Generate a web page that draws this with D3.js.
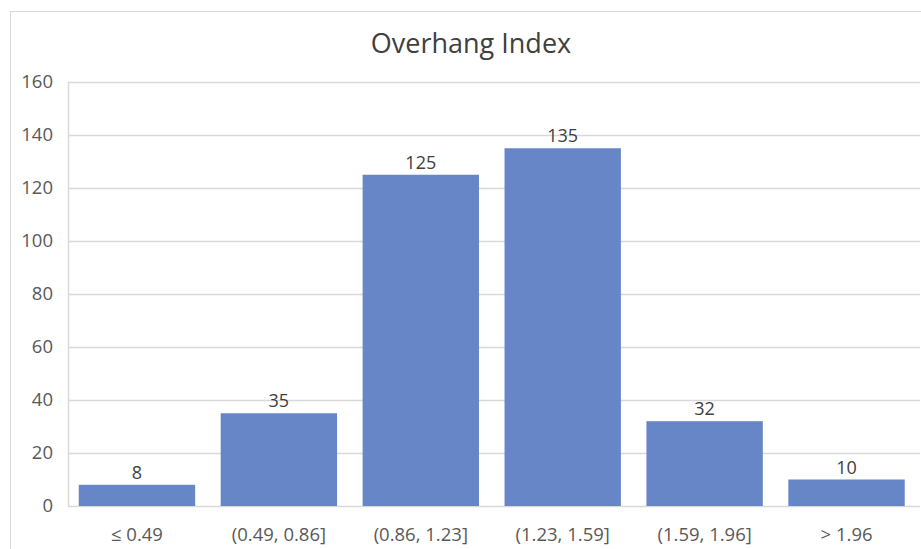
<!DOCTYPE html>
<html>
<head>
<meta charset="utf-8">
<script src="https://cdn.jsdelivr.net/npm/d3@7"></script>
<style>
  html, body { margin: 0; padding: 0; background: #fff; }
  svg { display: block; }
  text { font-family: "Open Sans", "Noto Sans", sans-serif; }
</style>
</head>
<body>
<svg id="chart" width="921" height="549"></svg>
<script>
// Overhang index histogram
const categories = ["≤ 0.49", "(0.49, 0.86]", "(0.86, 1.23]", "(1.23, 1.59]", "(1.59, 1.96]", "> 1.96"];
const counts = [8, 35, 125, 135, 32, 10];
const yTicks = [0, 20, 40, 60, 80, 100, 120, 140, 160];
const title = "Overhang Index";

const svg = d3.select("#chart");
const W = 921, H = 549;
const plot = { left: 68, right: 920, top: 82, bottom: 506 };

// chart frame
svg.append("rect")
  .attr("x", 10.5).attr("y", 11.5)
  .attr("width", W + 20).attr("height", H + 20)
  .attr("fill", "#fff").attr("stroke", "#d9d9d9").attr("stroke-width", 1);

const x = d3.scaleBand()
  .domain(categories)
  .range([66, 917.5])
  .paddingInner(0.18)
  .paddingOuter(0.09);

const y = d3.scaleLinear()
  .domain([0, 160])
  .range([plot.bottom, plot.top]);

// horizontal gridlines
svg.append("g")
  .selectAll("line")
  .data(yTicks)
  .join("line")
  .attr("x1", plot.left).attr("x2", plot.right)
  .attr("y1", d => Math.round(y(d)) + 0.5)
  .attr("y2", d => Math.round(y(d)) + 0.5)
  .attr("stroke", "#d9d9d9").attr("stroke-width", 1.5);

// left edge of the plot area
svg.append("line")
  .attr("x1", plot.left + 0.5).attr("x2", plot.left + 0.5)
  .attr("y1", plot.top).attr("y2", plot.bottom)
  .attr("stroke", "#d9d9d9").attr("stroke-width", 1.5);

// y axis labels
const yAxis = d3.axisLeft(y).tickValues(yTicks).tickSize(0).tickPadding(15);
const gy = svg.append("g")
  .attr("transform", `translate(${plot.left},0)`)
  .call(yAxis);
gy.select(".domain").remove();
gy.selectAll("text")
  .attr("font-size", 18.5)
  .attr("fill", "#595959")
  .style("font-family", "'Open Sans', 'Noto Sans', sans-serif");

// bars
svg.append("g")
  .selectAll("rect")
  .data(counts)
  .join("rect")
  .attr("x", (d, i) => x(categories[i]))
  .attr("width", x.bandwidth())
  .attr("y", d => y(d))
  .attr("height", d => y(0) - y(d))
  .attr("fill", "#6686c7");

// value labels
svg.append("g")
  .selectAll("text")
  .data(counts)
  .join("text")
  .attr("x", (d, i) => x(categories[i]) + x.bandwidth() / 2)
  .attr("y", d => y(d) - 6)
  .attr("text-anchor", "middle")
  .attr("font-size", 18)
  .attr("fill", "#404040")
  .text(d => d);

// x axis labels
const xAxis = d3.axisBottom(x).tickSize(0).tickPadding(22);
const gx = svg.append("g")
  .attr("transform", `translate(0,${plot.bottom})`)
  .call(xAxis);
gx.select(".domain").remove();
gx.selectAll("text")
  .attr("font-size", 18.5)
  .attr("fill", "#595959")
  .style("font-family", "'Open Sans', 'Noto Sans', sans-serif");

// title
svg.append("text")
  .attr("x", 471).attr("y", 53)
  .attr("text-anchor", "middle")
  .attr("font-size", 27)
  .attr("fill", "#404040")
  .text(title);
</script>
</body>
</html>
